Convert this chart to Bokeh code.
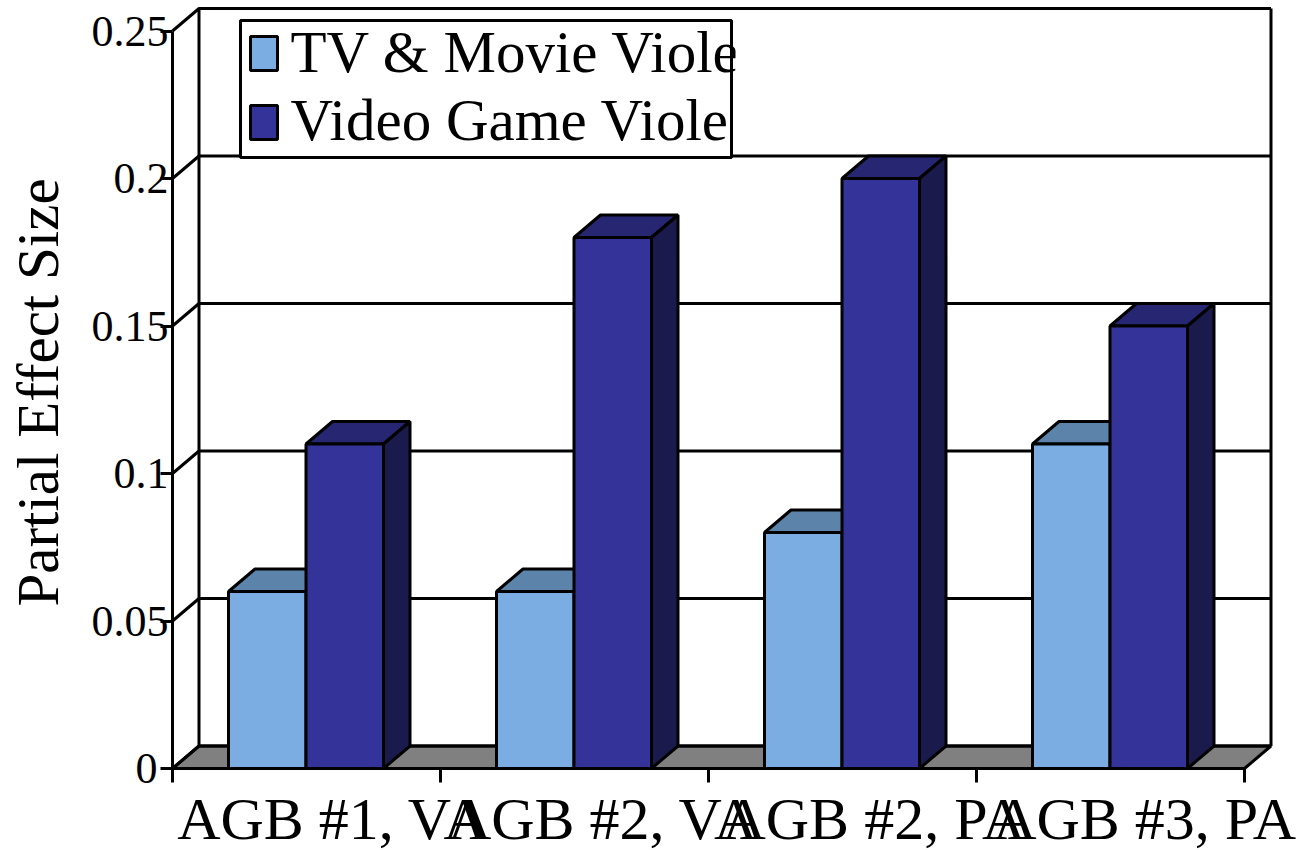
from bokeh.plotting import figure
from bokeh.models import FixedTicker, Range1d
from bokeh.core.properties import value
from bokeh.embed import file_html
from bokeh.resources import INLINE
import math

categories = ["AGB #1, VA", "AGB #2, VA", "AGB #2, PA", "AGB #3, PA"]
tv_movie = [0.06, 0.06, 0.08, 0.11]
video_game = [0.11, 0.18, 0.20, 0.15]
y_ticks = [0, 0.05, 0.1, 0.15, 0.2, 0.25]
y_labels = ["0\u00a0", "0.05", "0.1", "0.15", "0.2", "0.25"]
legend_names = ["TV & Movie Viole", "Video Game Viole"]

FONT = "Liberation Serif"
BLACK = "#000000"
PX_X = 268.0     # pixels per category
PX_Y = 2950.0    # pixels per unit of effect size
DX, DY = 26.5 / PX_X, 22.5 / PX_Y   # 3-D depth
X0_PX, Y0_PX = 172.0, 768.0
BAR_OFF, BAR_W = 56.0 / PX_X, 77.5 / PX_X
LW = 3

def dx(px):
    return (px - X0_PX) / PX_X
def dy(px):
    return (Y0_PX - px) / PX_Y

p = figure(width=1301, height=850, output_backend="svg", toolbar_location=None,
           x_range=Range1d(dx(0), dx(1301)), y_range=Range1d(dy(850), dy(0)),
           min_border_left=0, min_border_right=0, min_border_top=0, min_border_bottom=0,
           outline_line_color=None)
p.grid.visible = False
p.background_fill_color = "white"

# x axis: category labels on major ticks, group boundaries as minor ticks
xa = p.xaxis[0]
label_pos = [dx(332 + 270.7 * k) for k in range(len(categories))]
xa.fixed_location = 0
xa.ticker = FixedTicker(ticks=label_pos, minor_ticks=[0, 1, 2, 3, 4])
xa.major_label_overrides = dict(zip(label_pos, categories))
xa.major_tick_out = 0
xa.major_tick_in = 0
xa.minor_tick_out = 14
xa.minor_tick_in = 0
xa.minor_tick_line_width = LW
xa.minor_tick_line_color = BLACK
xa.axis_line_width = LW
xa.axis_line_color = BLACK
xa.bounds = (0, 4)
xa.major_label_text_font = FONT
xa.major_label_text_font_size = "60px"
xa.major_label_text_color = BLACK
xa.major_label_standoff = 3

ya = p.yaxis[0]
ya.fixed_location = 0
ya.ticker = FixedTicker(ticks=y_ticks)
ya.major_label_overrides = dict(zip(y_ticks, y_labels))
ya.bounds = (0, 0.25)
ya.major_tick_out = 12
ya.major_tick_in = 0
ya.minor_tick_out = 0
ya.minor_tick_in = 0
ya.major_tick_line_width = LW
ya.major_tick_line_color = BLACK
ya.axis_line_width = LW
ya.axis_line_color = BLACK
ya.major_label_text_font = FONT
ya.major_label_text_font_size = "44px"
ya.major_label_text_color = BLACK
ya.major_label_standoff = -8

# floor
p.patch([0, 4, 4 + DX, DX], [0, 0, DY, DY], fill_color="#808080", line_color=BLACK, line_width=LW)

# walls: grid lines along the back and side walls
for t in y_ticks:
    p.line([0, DX, 4 + DX], [t, t + DY, t + DY], line_color=BLACK, line_width=LW)
p.line([DX, DX], [DY, 0.25 + DY], line_color=BLACK, line_width=LW)
p.line([4 + DX, 4 + DX], [DY, 0.25 + DY], line_color=BLACK, line_width=LW)

def bar(x, v, front, top, side):
    p.patch([x, x + BAR_W, x + BAR_W + DX, x + DX],
            [v, v, v + DY, v + DY], fill_color=top, line_color=BLACK, line_width=LW)
    p.patch([x + BAR_W, x + BAR_W + DX, x + BAR_W + DX, x + BAR_W],
            [0, DY, v + DY, v], fill_color=side, line_color=BLACK, line_width=LW)
    p.quad(left=x, right=x + BAR_W, bottom=0, top=v, fill_color=front, line_color=BLACK, line_width=LW)

for i in range(len(categories)):
    bar(i + BAR_OFF, tv_movie[i], "#7BADE3", "#5C84AB", "#3D5872")
    bar(i + BAR_OFF + BAR_W, video_game[i], "#333399", "#262673", "#1A1A4D")

# legend box; its text runs a little past the box and is cut, as in the original
p.quad(left=dx(240), right=dx(731), top=dy(20), bottom=dy(157), fill_color="white",
       line_color=BLACK, line_width=LW)
for name, col, top_px, mid_px in zip(legend_names, ["#7BADE3", "#333399"], [36, 105], [51, 119]):
    p.quad(left=dx(250), right=dx(277), top=dy(top_px), bottom=dy(top_px + 34), fill_color=col,
           line_color=BLACK, line_width=LW)
    p.text(x=[dx(290)], y=[dy(mid_px)], text=[name], text_font=value(FONT), text_font_size="59px",
           text_color=BLACK, text_baseline="middle", text_align="left")
p.quad(left=dx(735), right=dx(750), top=dy(25), bottom=dy(145), fill_color="white", line_color=None)

# axis title
p.text(x=[dx(37)], y=[dy(392)], text=["Partial Effect Size"], angle=math.pi / 2, text_font=value(FONT),
       text_font_size="59px", text_color=BLACK, text_align="center", text_baseline="middle")

open("out.html", "w").write(file_html(p, INLINE))
